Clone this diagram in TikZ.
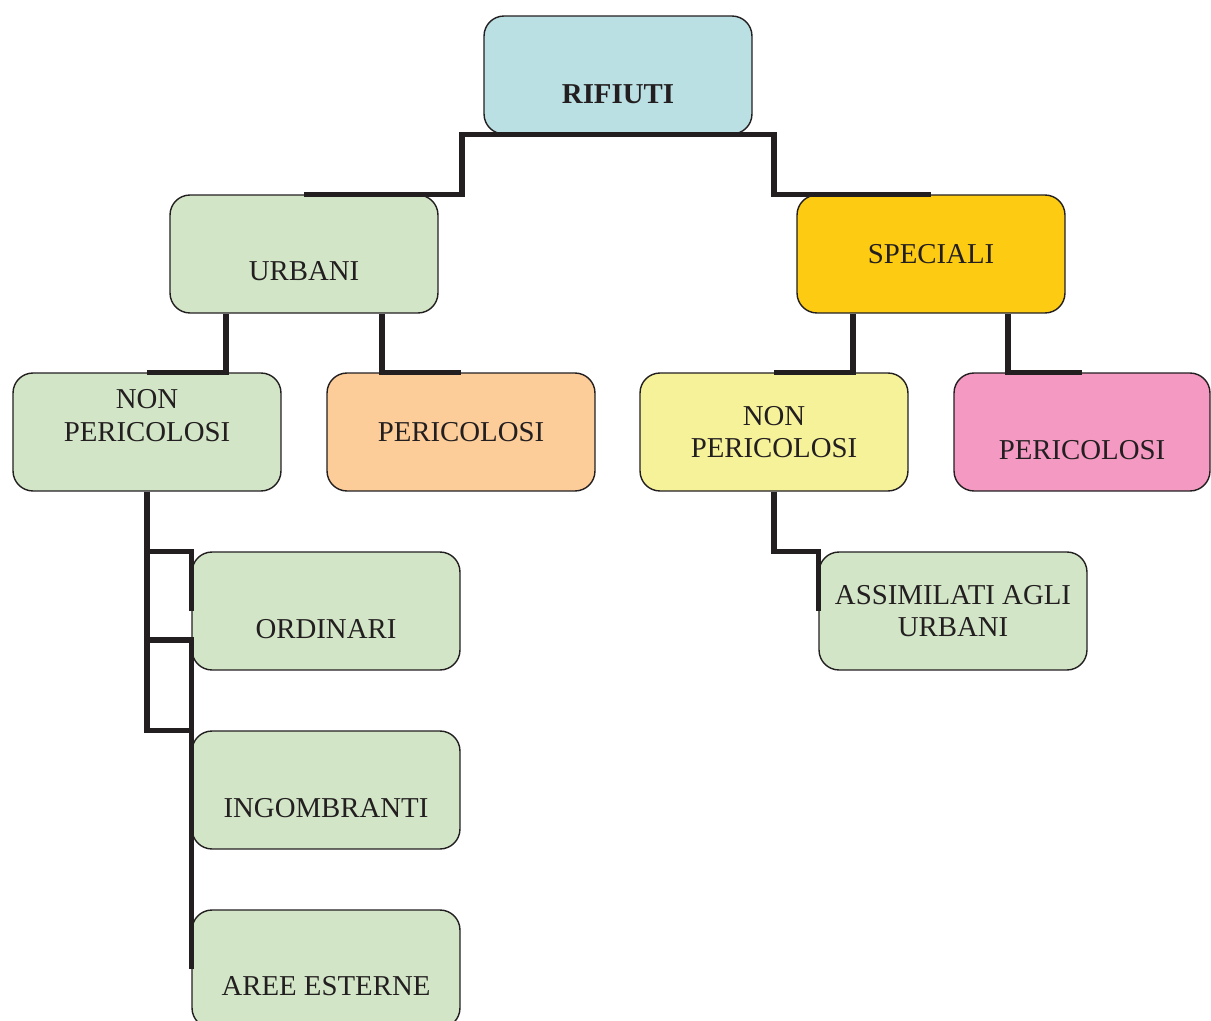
\documentclass[tikz,border=0pt]{standalone}
\usepackage{fontspec}
\setmainfont{Liberation Serif}
\usetikzlibrary{calc,positioning}

\definecolor{ink}{HTML}{231F20}
\definecolor{rifcol}{HTML}{BBE0E3}
\definecolor{urbcol}{HTML}{D2E6C7}
\definecolor{spccol}{HTML}{FCCB12}
\definecolor{orgcol}{HTML}{FCCC99}
\definecolor{ylwcol}{HTML}{F6F29A}
\definecolor{pnkcol}{HTML}{F49AC2}

\begin{document}
\begin{tikzpicture}[x=0.02cm,y=-0.02cm,
  box/.style={draw=ink,line width=0.8pt,rounded corners=0.4cm,
    minimum width=5.36cm,minimum height=2.36cm,align=center,
    text=ink,font=\fontsize{16.4}{18.6}\selectfont},
  drop/.style={text height=#1,text depth=0pt},
  link/.style={draw=ink,line width=3.1pt}]
\useasboundingbox (0,0) rectangle (1211,1021);

% boxes
\node[box,fill=rifcol,drop=33pt,font=\fontsize{16.4}{18.6}\selectfont\bfseries] (rifiuti) at (618,75) {RIFIUTI};
\node[box,fill=urbcol,drop=30pt] (urbani) at (304,254) {URBANI};
\node[box,fill=spccol] (speciali) at (931,254) {SPECIALI};
\node[box,fill=urbcol,text depth=19pt] (nonperurb) at (147,432) {NON\\PERICOLOSI};
\node[box,fill=orgcol] (pericurb) at (461,432) {PERICOLOSI};
\node[box,fill=ylwcol] (nonperspec) at (774,432) {NON\\PERICOLOSI};
\node[box,fill=pnkcol,drop=31pt,minimum width=5.12cm] (pericspec) at (1082,432) {PERICOLOSI};
\node[box,fill=urbcol,drop=31pt] (ordinari) at (326,611) {ORDINARI};
\node[box,fill=urbcol,drop=31pt] (ingombranti) at (326,790) {INGOMBRANTI};
\node[box,fill=urbcol,drop=30pt] (aree) at (326,969) {AREE ESTERNE};
\node[box,fill=urbcol] (assimilati) at (953,611) {ASSIMILATI AGLI\\URBANI};

% connectors
\draw[link] (rifiuti.south) -| ($(urbani.north)+(158,0)$) -- (urbani.north);
\draw[link] (rifiuti.south) -| ($(speciali.north)+(-157,0)$) -- (speciali.north);
\draw[link] ($(urbani.south)+(-78,0)$) |- (nonperurb.north);
\draw[link] ($(urbani.south)+(78,0)$) |- (pericurb.north);
\draw[link] ($(speciali.south)+(-78,0)$) |- (nonperspec.north);
\draw[link] ($(speciali.south)+(77,0)$) |- (pericspec.north);
\draw[link] (nonperurb.south) |- (ingombranti.north west);
\draw[link] (nonperurb.south) |- (ordinari.north west) -- (ordinari.west);
\draw[link] ($(ordinari.west)+(-45,29)$) -| (aree.west);
\draw[link] (nonperspec.south) |- (assimilati.north west) -- (assimilati.west);
\end{tikzpicture}
\end{document}
